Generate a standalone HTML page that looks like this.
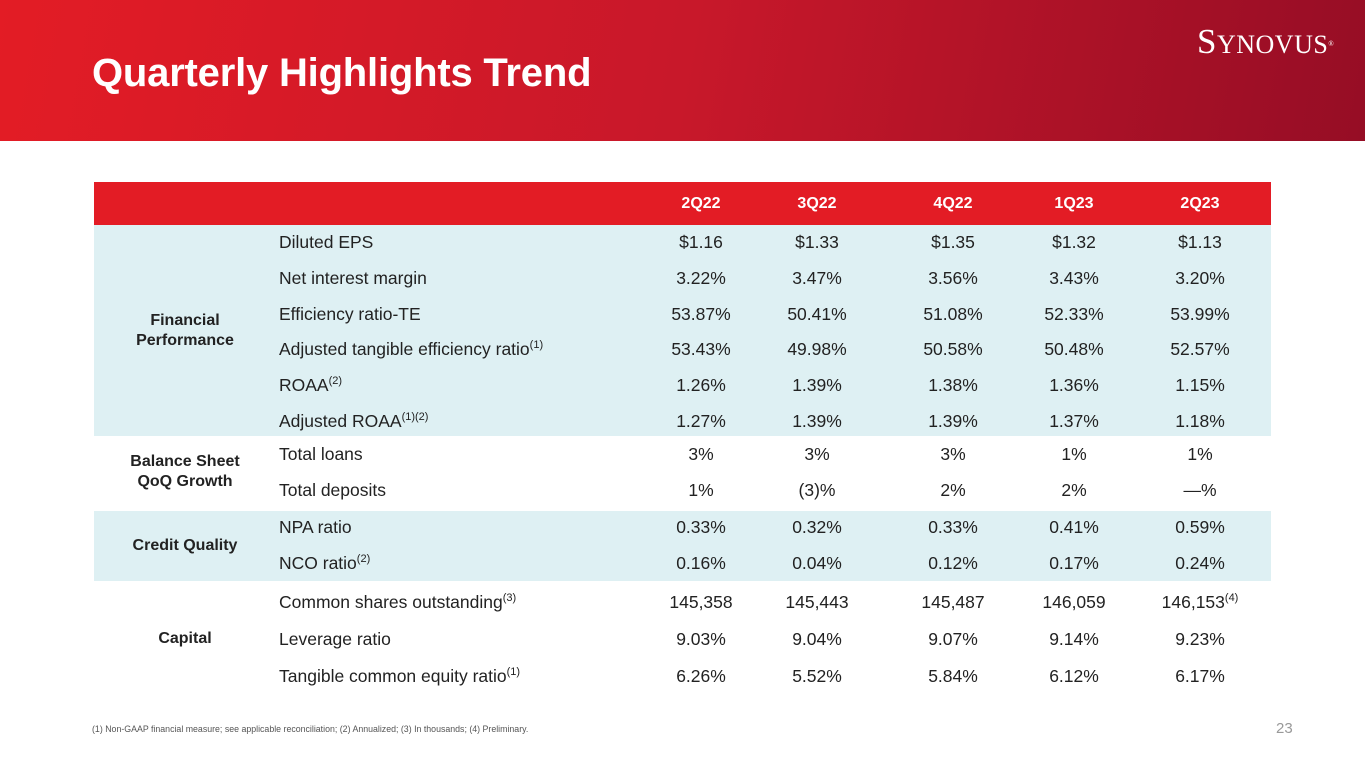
<!DOCTYPE html>
<html><head><meta charset="utf-8"><style>
body{margin:0;width:1365px;height:768px;position:relative;overflow:hidden;background:#fff;font-family:"Liberation Sans",sans-serif;color:#222}
.hdr{position:absolute;left:0;top:0;width:1365px;height:141px;background:linear-gradient(100deg,#e31c25 0%,#c8182a 50%,#960d25 100%)}
.title{position:absolute;left:92px;top:51px;font-size:40px;font-weight:bold;color:#fff;letter-spacing:-0.2px}
.logo{position:absolute;left:1197px;top:22px;font-family:"Liberation Serif",serif;font-size:35px;color:#fff;letter-spacing:0.5px}
.logo small{font-size:26px}
.band{position:absolute;left:94px;width:1177px}
.t{position:absolute;font-size:17.5px;line-height:20px;white-space:nowrap}
.c{transform:translateX(-50%);text-align:center}
sup{font-size:11px;vertical-align:7px;line-height:0}
.g{font-weight:bold;font-size:16px;text-align:center;transform:translateX(-50%)}
.h{color:#fff;font-weight:bold;font-size:16px}
.foot{position:absolute;left:92px;top:724px;font-size:8.8px;color:#555}
.pg{position:absolute;left:1276px;top:720px;font-size:15px;color:#999}
</style></head><body>
<div class="hdr"></div>
<div class="title">Quarterly Highlights Trend</div>
<div class="logo">S<small>YNOVUS</small><sup style="font-size:7px">®</sup></div>
<div class="band" style="top:182px;height:43px;background:#e31c25"></div>
<div class="band" style="top:225px;height:211px;background:#def0f3"></div>
<div class="band" style="top:511px;height:70px;background:#def0f3"></div>
<div id="tbl"></div>
<div class="foot">(1) Non-GAAP financial measure; see applicable reconciliation; (2) Annualized; (3) In thousands; (4) Preliminary.</div>
<div class="pg">23</div>
<script>
const quarters=["2Q22","3Q22","4Q22","1Q23","2Q23"];
const colX=[701,817,953,1074,1200];
const rows=[
["Diluted EPS",242,["$1.16","$1.33","$1.35","$1.32","$1.13"]],
["Net interest margin",278,["3.22%","3.47%","3.56%","3.43%","3.20%"]],
["Efficiency ratio-TE",314,["53.87%","50.41%","51.08%","52.33%","53.99%"]],
["Adjusted tangible efficiency ratio<sup>(1)</sup>",349,["53.43%","49.98%","50.58%","50.48%","52.57%"]],
["ROAA<sup>(2)</sup>",385,["1.26%","1.39%","1.38%","1.36%","1.15%"]],
["Adjusted ROAA<sup>(1)(2)</sup>",421,["1.27%","1.39%","1.39%","1.37%","1.18%"]],
["Total loans",454,["3%","3%","3%","1%","1%"]],
["Total deposits",490,["1%","(3)%","2%","2%","—%"]],
["NPA ratio",527,["0.33%","0.32%","0.33%","0.41%","0.59%"]],
["NCO ratio<sup>(2)</sup>",563,["0.16%","0.04%","0.12%","0.17%","0.24%"]],
["Common shares outstanding<sup>(3)</sup>",602,["145,358","145,443","145,487","146,059","146,153<sup>(4)</sup>"]],
["Leverage ratio",639,["9.03%","9.04%","9.07%","9.14%","9.23%"]],
["Tangible common equity ratio<sup>(1)</sup>",676,["6.26%","5.52%","5.84%","6.12%","6.17%"]]];
const groups=[["Financial<br>Performance",331],["Balance Sheet<br>QoQ Growth",472],["Credit Quality",546],["Capital",639]];
const tb=document.getElementById('tbl');
function add(html,cls,x,y,name){const d=document.createElement('div');d.className='t '+cls;d.style.left=x+'px';d.style.top=y+'px';d.innerHTML=html;


tb.appendChild(d);return d;}
quarters.forEach((q,i)=>add(q,'h c',colX[i],194,'column-header-'+q.toLowerCase()));
rows.forEach((r,ri)=>{add(r[0],'',279,r[1]-10,'row-label-'+ri);r[2].forEach((v,i)=>add(v,'c',colX[i],r[1]-10,'cell-'+ri+'-'+i));});
groups.forEach((g,i)=>{const n=g[0].includes('<br>')?2:1;add(g[0],'g',185,g[1]-n*10,'group-label-'+i);});
</script>
</body></html>
